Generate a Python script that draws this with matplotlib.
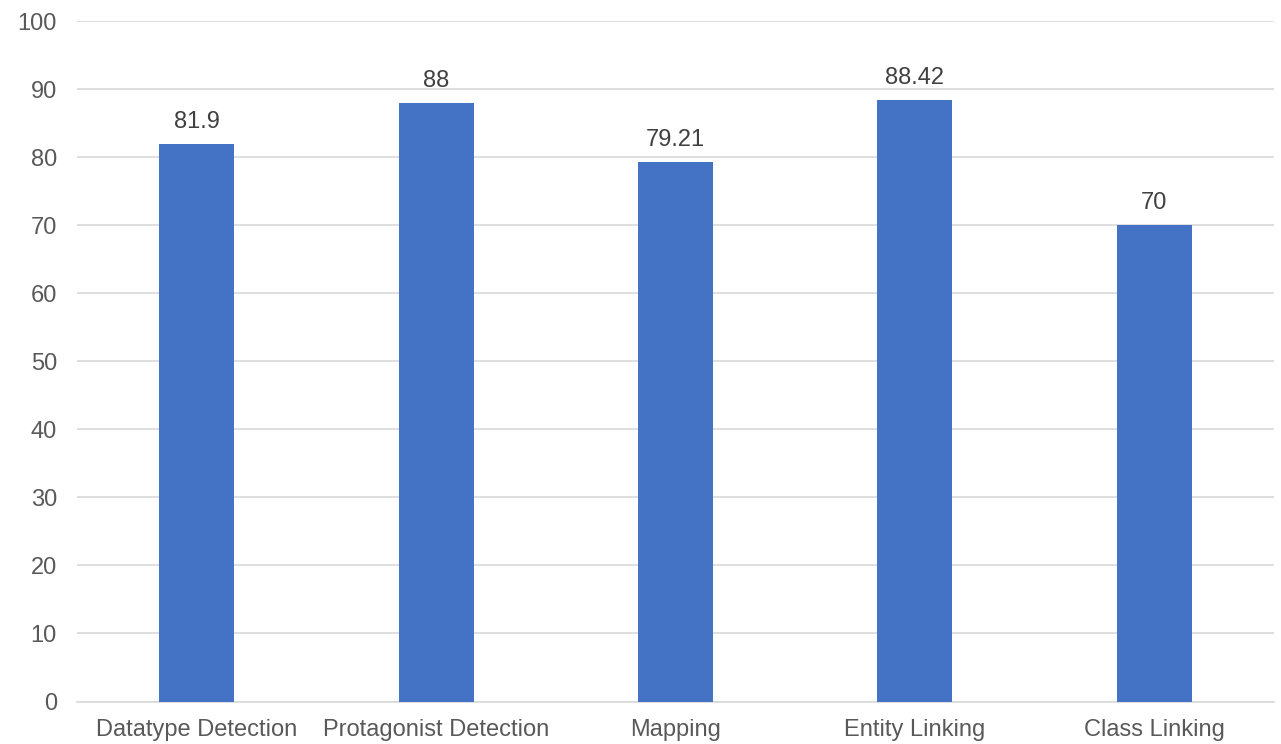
import matplotlib.pyplot as plt

plt.rcParams['font.family'] = ['Liberation Sans', 'DejaVu Sans']

# 数据
categories = ['Datatype Detection', 'Protagonist Detection', 'Mapping', 'Entity Linking', 'Class Linking']
values = [81.9, 88, 79.21, 88.42, 70]
value_labels = ['81.9', '88', '79.21', '88.42', '70']
y_ticks = [0, 10, 20, 30, 40, 50, 60, 70, 80, 90, 100]

fig = plt.figure(figsize=(12.81, 7.44), dpi=100)
ax = fig.add_axes([77 / 1281, 1 - 701.5 / 744, 1197 / 1281, 680.5 / 744])

x = list(range(len(categories)))
bars = ax.bar(x, values, width=0.3125, color='#4472c4', zorder=3)

for xi, v, lab in zip(x, values, value_labels):
    ax.annotate(lab, (xi, v), xytext=(0, 8), textcoords='offset points',
                ha='center', va='bottom', fontsize=17, color='#404040')

ax.set_xlim(-0.5, len(categories) - 0.5)
ax.set_ylim(0, 100)
ax.set_yticks(y_ticks)
ax.set_xticks(x)
ax.set_xticklabels(categories)
ax.tick_params(axis='both', length=0, labelsize=17, labelcolor='#595959')
ax.tick_params(axis='y', pad=14.5)
ax.tick_params(axis='x', pad=12.5)
ax.yaxis.grid(True, color='#d9d9d9', linewidth=1.2, zorder=0)

for s in ['top', 'right', 'left']:
    ax.spines[s].set_visible(False)
ax.spines['bottom'].set_color('#d9d9d9')
ax.spines['bottom'].set_linewidth(1.2)

fig.savefig('out.png', dpi=100)
